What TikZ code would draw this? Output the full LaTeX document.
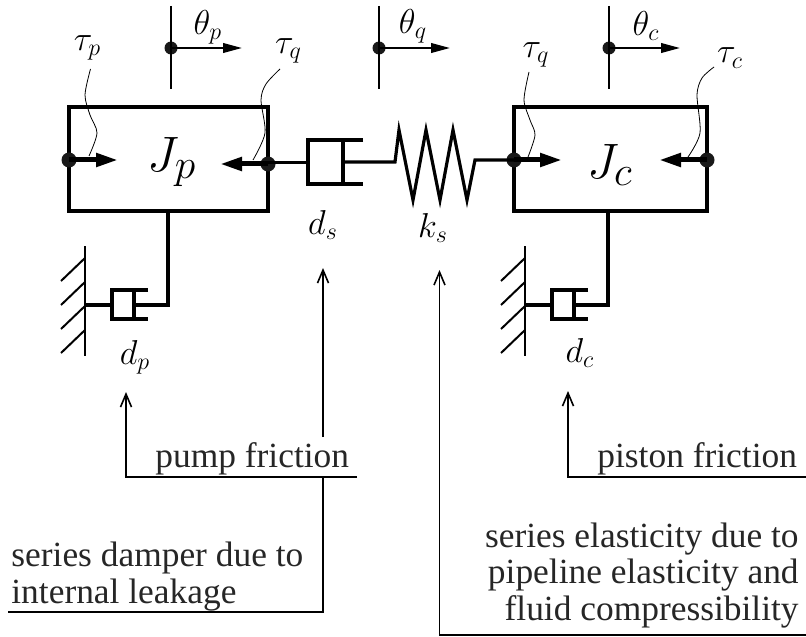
\documentclass[tikz,border=0pt]{standalone}
\usepackage{amsmath,amssymb}
\usepackage{fontspec}
\setmainfont{Liberation Serif}
\usetikzlibrary{arrows.meta,calc}
\tikzset{
    frame/.style={line width=2.2pt},
    wire/.style={line width=1.6pt},
    thin line/.style={line width=1pt},
    dot/.style={circle, fill=black!90, inner sep=0pt, minimum size=#1},
    lbl/.style={inner sep=0pt, font=\fontsize{18.5}{22}\selectfont},
    mass/.style={inner sep=0pt, font=\fontsize{29}{34}\selectfont},
    note/.style={inner sep=0pt, font=\fontsize{17.7}{18.2}\selectfont, text=black!85, align=#1},
    leader/.style={line width=0.4pt},
    torque/.style={line width=2.5pt, -{Triangle[length=11pt,width=6.5pt]}},
    speed/.style={line width=1pt, -{Triangle[length=9.5pt,width=4.8pt]}},
    callout/.style={line width=0.8pt, -{Straight Barb[length=6.5pt,width=5.5pt]}}
}
\begin{document}
\begin{tikzpicture}[x=0.5pt,y=-0.5pt,>=Latex]
    \useasboundingbox (0,0) rectangle (806,636);

    % Masses
    \draw[frame] (69,107) rectangle (268,211);
    \draw[frame] (514,107) rectangle (707,211);
    \node[mass] (Jp) at (172,162) {$J_p$};
    \node[mass] (Jc) at (610,165) {$J_c$};

    % Torque points
    \node[dot=7.5pt] (pL) at (69,160) {};
    \node[dot=7.5pt] (pR) at (268,164) {};
    \node[dot=7.5pt] (cL) at (514,160) {};
    \node[dot=7.5pt] (cR) at (707,160) {};
    \coordinate (pLtip) at (118,160);
    \coordinate (pRtip) at (220,164);
    \coordinate (cLtip) at (562,160);
    \coordinate (cRtip) at (659,160);
    \draw[torque] (pL.center) -- (pLtip);
    \draw[torque] (pR.center) -- (pRtip);
    \draw[torque] (cL.center) -- (cLtip);
    \draw[torque] (cR.center) -- (cRtip);

    % Series damper and spring
    \coordinate (dsL) at (308,162.5);
    \draw[wire] (pR.center |- dsL) -- (dsL);
    \draw[frame] (363,140) -- (308,140) -- (308,184) -- (363,184);
    \draw[frame] (343,140) -- (343,184);
    \draw[wire] (343,162) -- (395,162) -- (399,130) -- (413,200) -- (426,130) -- (440,200) -- (453,130) -- (467,200) -- (475,160) -- (cL.center);
    \node[lbl] (ds) at (323,225) {$d_s$};
    \node[lbl] (ks) at (433,228) {$k_s$};

    % Pump friction damper
    \draw[wire] (168,211) -- (168,305) -- (134,305);
    \draw[wire] (85,305) -- (112,305);
    \draw[wire] (148,290) -- (112,290) -- (112,319) -- (148,319);
    \draw[wire] (134,290) -- (134,319);
    \draw[thin line] (85,246) -- (85,356);
    \foreach \y in {258,282,306,330} {
        \draw[thin line] (85,\y) -- (61,\y+23);
    }
    \node[lbl] (dp) at (135,357) {$d_p$};

    % Piston friction damper
    \draw[wire] (608,211) -- (608,305) -- (574,305);
    \draw[wire] (525,305) -- (552,305);
    \draw[wire] (588,290) -- (552,290) -- (552,319) -- (588,319);
    \draw[wire] (574,290) -- (574,319);
    \draw[thin line] (525,246) -- (525,356);
    \foreach \y in {258,282,306,330} {
        \draw[thin line] (525,\y) -- (501,\y+23);
    }
    \node[lbl] (dc) at (580,353) {$d_c$};

    % Angles
    \foreach \n/\x in {p/171,q/379,c/609} {
        \node[dot=6.5pt] (th\n) at (\x,48) {};
        \draw[thin line] (\x,6) -- (\x,89);
        \coordinate (th\n tip) at (\x+71,48);
        \draw[speed] (th\n.center) -- (th\n tip);
    }
    \node[lbl] (labp) at (208,27) {$\theta_p$};
    \node[lbl] (labq) at (413,26) {$\theta_q$};
    \node[lbl] (labc) at (646,26) {$\theta_c$};

    % Torque labels and leaders
    \node[lbl] (tp) at (87.5,48) {$\tau_p$};
    \node[lbl] (tq) at (288.5,51) {$\tau_q$};
    \node[lbl] (tqc) at (536,55) {$\tau_q$};
    \node[lbl] (tc) at (730,58) {$\tau_c$};
    \draw[leader] plot[smooth] coordinates {(90.5,69) (85,95) (90,115) (97,133) (89,156)};
    \draw[leader] plot[smooth] coordinates {(280,69) (266,84) (261,100) (265,133) (253,160)};
    \draw[leader] plot[smooth] coordinates {(529,72) (524,100) (530,120) (535,135) (528,157)};
    \draw[leader] plot[smooth] coordinates {(714,67) (702,78) (697,95) (700,133) (688,157)};

    % Callouts
    \node[note=left, anchor=base west] (nPump) at (155,467) {pump friction};
    \node[note=left, anchor=base west] (nPiston) at (597,467) {piston friction};
    \node[note=left, anchor=base west] (nDamper) at (11,603) {series damper due to\\internal leakage};
    \node[note=right, anchor=base east] (nElastic) at (799,620) {series elasticity due to\\pipeline elasticity and\\fluid compressibility};
    \coordinate (pumpEnd) at (357,477);
    \coordinate (pumpTip) at (126,392);
    \coordinate (dampEnd) at (8,612);
    \coordinate (dampTip) at (323,268);
    \coordinate (dampGap) at (323,437);
    \coordinate (pistonEnd) at (806,477);
    \coordinate (pistonTip) at (568,391);
    \coordinate (elasticEnd) at (806,635);
    \coordinate (elasticTip) at (439.5,270);
    \draw[callout] (pumpEnd) -- (pumpTip |- pumpEnd) -- (pumpTip);
    \draw[thin line] (dampEnd) -- (dampTip |- dampEnd) -- (dampTip |- pumpEnd);
    \draw[callout] (dampGap) -- (dampTip);
    \draw[callout] (pistonEnd) -- (pistonTip |- pistonEnd) -- (pistonTip);
    \draw[callout] (elasticEnd) -- (elasticTip |- elasticEnd) -- (elasticTip);
\end{tikzpicture}
\end{document}
